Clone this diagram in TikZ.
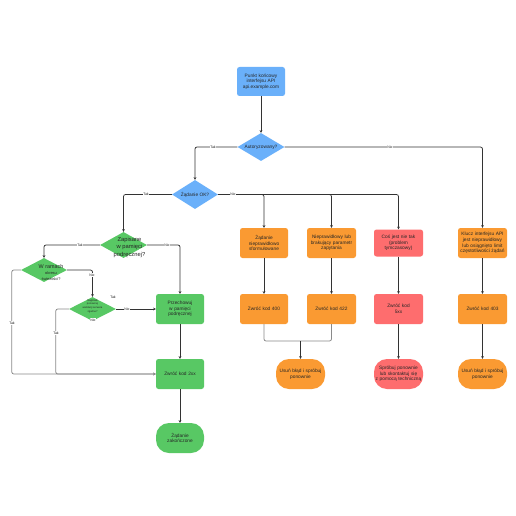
\documentclass[tikz,border=0pt]{standalone}
\usepackage{fontspec}
\setmainfont{Liberation Sans}
\usetikzlibrary{shapes.geometric,arrows.meta}
\definecolor{cblue}{HTML}{6AB0FA}
\definecolor{cgreen}{HTML}{58C864}
\definecolor{corange}{HTML}{FA9A32}
\definecolor{cred}{HTML}{FE6D6E}
\definecolor{cline}{HTML}{333333}
\definecolor{cgray}{HTML}{8A8A8A}
\tikzset{
  box/.style={draw=none, rounded corners=2.5pt, minimum width=48pt, minimum height=30pt,
    text width=47pt, align=center, inner sep=0pt, text=black!85,
    font=\fontsize{4.8}{5.7}\selectfont},
  stad/.style={box, rounded corners=13pt},
  dia/.style={diamond, draw=none, inner sep=0pt, minimum width=47pt, minimum height=28pt},
  dtxt/.style={align=center, inner sep=0pt, text=black!85, font=\fontsize{4.8}{5.7}\selectfont},
  arr/.style={draw=cline, line width=0.75pt, rounded corners=2pt,
    -{Stealth[length=2.6pt,width=2.6pt]}},
  garr/.style={arr, draw=cgray},
  gline/.style={draw=cgray, line width=0.75pt, rounded corners=2pt},
  lbl/.style={font=\fontsize{3.5}{4}\selectfont, fill=white, inner sep=0.5pt, text=black!85},
}
\begin{document}
\begin{tikzpicture}[x=1pt,y=-1pt]
\useasboundingbox[fill=white] (0,0) rectangle (516,516);

% ---- top / blue
\node[box, fill=cblue, minimum height=29pt] (api) at (261,81.5) {Punkt końcowy\\interfejsu API\\api.example.com};
\node[dia, fill=cblue] (auth) at (261,147) {};
\node[dtxt] (authT) at (auth) {Autoryzowany?};
\node[dia, fill=cblue, minimum height=29pt, minimum width=46pt] (ok) at (195,194.5) {};
\node[dtxt] (okT) at (ok) {Żądanie OK?};

% ---- row 1
\node[box, fill=corange] (b1) at (264,243) {Żądanie\\nieprawidłowo\\sformułowane};
\node[box, fill=corange, minimum width=49pt] (b2) at (331.5,243) {Nieprawidłowy lub\\brakujący parametr\\zapytania};
\node[box, fill=cred, minimum width=49pt, minimum height=27pt] (b3) at (398.5,243) {Coś jest nie tak\\(problem\\tymczasowy)};
\node[box, fill=corange, minimum width=49pt] (b4) at (482.5,243) {Klucz interfejsu API\\jest nieprawidłowy\\lub osiągnięto limit\\częstotliwości żądań};

% ---- row 2
\node[box, fill=corange] (r1) at (264,309) {Zwróć kod 400};
\node[box, fill=corange, minimum width=49pt] (r2) at (331.5,309) {Zwróć kod 422};
\node[box, fill=cred, minimum width=49pt] (r3) at (398.5,309) {Zwróć kod\\5xx};
\node[box, fill=corange, minimum width=49pt] (r4) at (482.5,309) {Zwróć kod 403};

% ---- row 3
\node[stad, fill=corange, minimum width=49pt] (s1) at (300.5,374) {Usuń błąd i spróbuj\\ponownie};
\node[stad, fill=cred, minimum width=49pt] (s2) at (398.5,374) {Spróbuj ponownie\\lub skontaktuj się\\z pomocą techniczną};
\node[stad, fill=corange, minimum width=49pt] (s3) at (482.5,374) {Usuń błąd i spróbuj\\ponownie};

% ---- green part
\node[dia, fill=cgreen, minimum height=26pt] (cache) at (123.5,245) {};
\node[dtxt, font=\fontsize{5.8}{7.3}\selectfont] (cacheT) at (129.5,247.5) {Zapisane\\w pamięci\\podręcznej?};
\node[dia, fill=cgreen, minimum height=24pt, minimum width=46pt] (fresh) at (44,270) {};
\node[dtxt, font=\fontsize{3.9}{5.6}\selectfont] (freshT) at (51,272.5) {{\fontsize{5.4}{5.6}\selectfont W ramach}\\okresu\\świeżości?};
\node[dia, fill=cgreen, minimum height=24pt] (reval) at (92.5,309) {};
\node[dtxt, font=\fontsize{2.6}{3.7}\selectfont] (revalT) at (92.5,306) {Nagłówki\\ponownej\\walidacji serwera\\zgodne?};
\node[box, fill=cgreen] (store) at (180,309) {Przechowuj\\w pamięci\\podręcznej};
\node[box, fill=cgreen] (ret) at (180,374) {Zwróć kod 2xx};
\node[stad, fill=cgreen] (done) at (180,438) {Żądanie\\zakończone};

% ---- connectors
\draw[arr] (api) -- (auth);
\draw[arr] (auth.west) -| (ok.north);
\draw[arr] (auth.east) -| (b4.north);
\draw[arr] (ok.east) -| (b1.north);
\draw[arr] (ok.east) -| (b2.north);
\draw[arr] (ok.east) -| (b3.north);
\draw[arr] (ok.west) -| (cache.north);

\draw[arr] (b1) -- (r1);
\draw[arr] (b2) -- (r2);
\draw[arr] (b3) -- (r3);
\draw[arr] (b4) -- (r4);
\coordinate (m) at (300.5,341);
\draw[gline] (r1.south) |- (m) -| (r2.south);
\draw[arr] (m) -- (s1.north);
\draw[arr] (r3) -- (s2);
\draw[arr] (r4) -- (s3);

\draw[arr] (cache.west) -| (fresh.north);
\draw[arr] (cache.east) -| (store.north);
\draw[arr] (fresh.east) -| (reval.north);
\draw[garr] (fresh.west) -- ++(-9,0) |- (ret.west);
\draw[garr] (reval.west) -- ++(-13,0) |- (ret.west);
\draw[arr] (reval.east) -- (store.west);
\draw[arr] (store) -- (ret);
\draw[arr] (ret) -- (done);

% ---- edge labels
\node[lbl] (l1) at (213,147) {Tak};
\node[lbl] (l2) at (390,147) {Nie};
\node[lbl] (l3) at (146,194.5) {Tak};
\node[lbl] (l4) at (233,194.5) {Nie};
\node[lbl] (l5) at (80,245) {Tak};
\node[lbl] (l6) at (167,245) {Nie};
\node[lbl] (l7) at (92,275) {Nie};
\node[lbl] (l8) at (12,323) {Tak};
\node[lbl] (l9) at (56,333) {Tak};
\node[lbl] (l10) at (127,309) {Nie};
\node[lbl] (l11) at (113,297) {Tak};
\node[lbl] (l12) at (93,320) {Nie};
\end{tikzpicture}
\end{document}
